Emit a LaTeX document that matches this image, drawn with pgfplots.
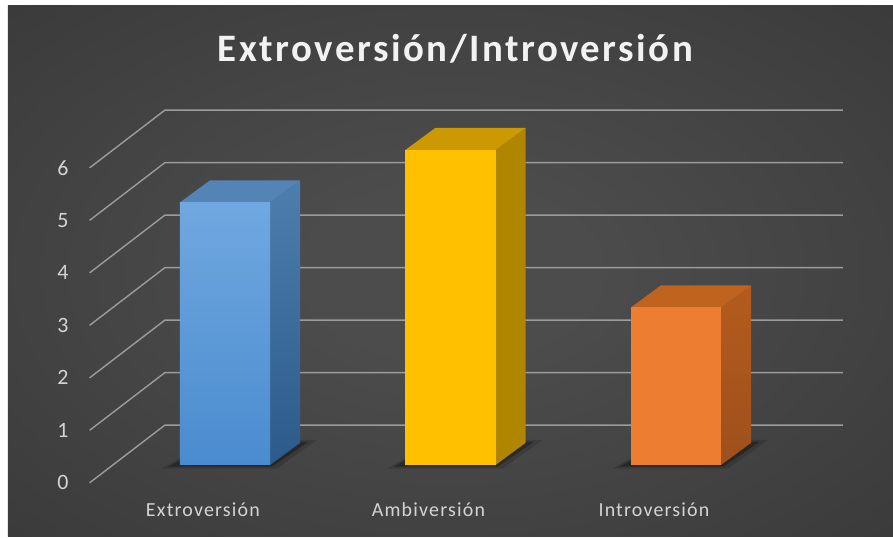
\documentclass[border=0pt]{standalone}
\usepackage{pgfplots}
\pgfplotsset{compat=1.18}
\usepackage{fontspec}
\setmainfont{Carlito}

\definecolor{bgin}{HTML}{4C4C4C}
\definecolor{bgout}{HTML}{242424}
\pgfdeclareradialshading{chartbg}{\pgfpoint{0bp}{0bp}}{color(0bp)=(bgin); color(8bp)=(bgin); color(72bp)=(bgout); color(100bp)=(bgout)}
\definecolor{gridc}{HTML}{9C9C9C}
\definecolor{lbl}{HTML}{D4D4D4}
\definecolor{titlec}{HTML}{F2F2F2}
% bar faces
\definecolor{blueTop}{HTML}{70A8E0}
\definecolor{blueBot}{HTML}{4A8BCF}
\definecolor{blueLid}{HTML}{5483B6}
\definecolor{blueSideT}{HTML}{4D7EAE}
\definecolor{blueSideB}{HTML}{2C5B8B}
\definecolor{gold}{HTML}{FFC000}
\definecolor{goldLid}{HTML}{CC9A00}
\definecolor{goldSide}{HTML}{B08600}
\definecolor{orng}{HTML}{ED7D31}
\definecolor{orngLid}{HTML}{C0631F}
\definecolor{orngSideT}{HTML}{B45B1E}
\definecolor{orngSideB}{HTML}{9E501B}

\begin{document}
\begin{tikzpicture}
\begin{axis}[
    width=885bp, height=531bp, scale only axis,
    xmin=-0.962, xmax=2.962, ymin=-1.371, ymax=8.743,
    axis line style={draw=none},
    axis background/.style={shade, shading=chartbg},
    major tick length=0pt,
    xtick={0,1,2},
    xticklabels={Extroversión, Ambiversión, Introversión},
    xticklabel style={anchor=center, xshift=-22bp, yshift=27bp, font=\fontsize{20}{24}\selectfont\addfontfeatures{LetterSpace=6}, text=lbl},
    ytick={-0.34,0.66,1.66,2.66,3.66,4.66,5.66},
    yticklabels={0,1,2,3,4,5,6},
    yticklabel style={anchor=center, xshift=55bp, font=\fontsize{22}{24}\selectfont, text=lbl},
    /pgf/number format/assume math mode=true,
    title={Extroversión/Introversión},
    title style={at={(0.5056,0.884)}, anchor=base, font=\fontsize{39}{44}\selectfont\bfseries\addfontfeatures{LetterSpace=6.5}, text=titlec},
    clip=false,
]
% gridlines: side diagonal + back wall, one polyline per value 0..6
\addplot[gridc, line width=1.4bp, mark=none, unbounded coords=jump] coordinates {
    (-0.6,-0.34) (-0.266,0.76) (2.74,0.76) (nan,nan)
    (-0.6,0.66) (-0.266,1.76) (2.74,1.76) (nan,nan)
    (-0.6,1.66) (-0.266,2.76) (2.74,2.76) (nan,nan)
    (-0.6,2.66) (-0.266,3.76) (2.74,3.76) (nan,nan)
    (-0.6,3.66) (-0.266,4.76) (2.74,4.76) (nan,nan)
    (-0.6,4.66) (-0.266,5.76) (2.74,5.76) (nan,nan)
    (-0.6,5.66) (-0.266,6.76) (2.74,6.76)
};

% soft floor shadows
\addplot[fill=black, opacity=0.15, draw=none, mark=none] coordinates {(-0.28,-0.07) (0.23,-0.07) (0.41,0.48) (-0.06,0.48)};
\addplot[fill=black, opacity=0.3, draw=none, mark=none] coordinates {(-0.25,-0.03) (0.21,-0.03) (0.37,0.44) (-0.05,0.44)};
\addplot[fill=black, opacity=0.15, draw=none, mark=none] coordinates {(0.72,-0.07) (1.23,-0.07) (1.41,0.48) (0.94,0.48)};
\addplot[fill=black, opacity=0.3, draw=none, mark=none] coordinates {(0.75,-0.03) (1.21,-0.03) (1.37,0.44) (0.95,0.44)};
\addplot[fill=black, opacity=0.15, draw=none, mark=none] coordinates {(1.72,-0.07) (2.23,-0.07) (2.41,0.48) (1.94,0.48)};
\addplot[fill=black, opacity=0.3, draw=none, mark=none] coordinates {(1.75,-0.03) (2.21,-0.03) (2.37,0.44) (1.95,0.44)};

% Extroversion = 5
\addplot[draw=none, mark=none, top color=blueSideT, bottom color=blueSideB] coordinates {(0.2,0) (0.333,0.42) (0.333,5.42) (0.2,5)};
\addplot[draw=none, mark=none, fill=blueLid] coordinates {(-0.2,5) (0.2,5) (0.333,5.42) (-0.067,5.42)};
\addplot[ybar, bar width=0.4, bar shift=0, draw=none, top color=blueTop, bottom color=blueBot] coordinates {(0,5)};

% Ambiversion = 6
\addplot[draw=none, mark=none, fill=goldSide] coordinates {(1.2,0) (1.333,0.42) (1.333,6.42) (1.2,6)};
\addplot[draw=none, mark=none, fill=goldLid] coordinates {(0.8,6) (1.2,6) (1.333,6.42) (0.933,6.42)};
\addplot[ybar, bar width=0.4, bar shift=0, draw=none, fill=gold] coordinates {(1,6)};

% Introversion = 3
\addplot[draw=none, mark=none, top color=orngSideT, bottom color=orngSideB] coordinates {(2.2,0) (2.333,0.42) (2.333,3.42) (2.2,3)};
\addplot[draw=none, mark=none, fill=orngLid] coordinates {(1.8,3) (2.2,3) (2.333,3.42) (1.933,3.42)};
\addplot[ybar, bar width=0.4, bar shift=0, draw=none, fill=orng] coordinates {(2,3)};
\end{axis}
\path (current axis.north west) ++(-8bp,6bp);
\end{tikzpicture}
\end{document}
